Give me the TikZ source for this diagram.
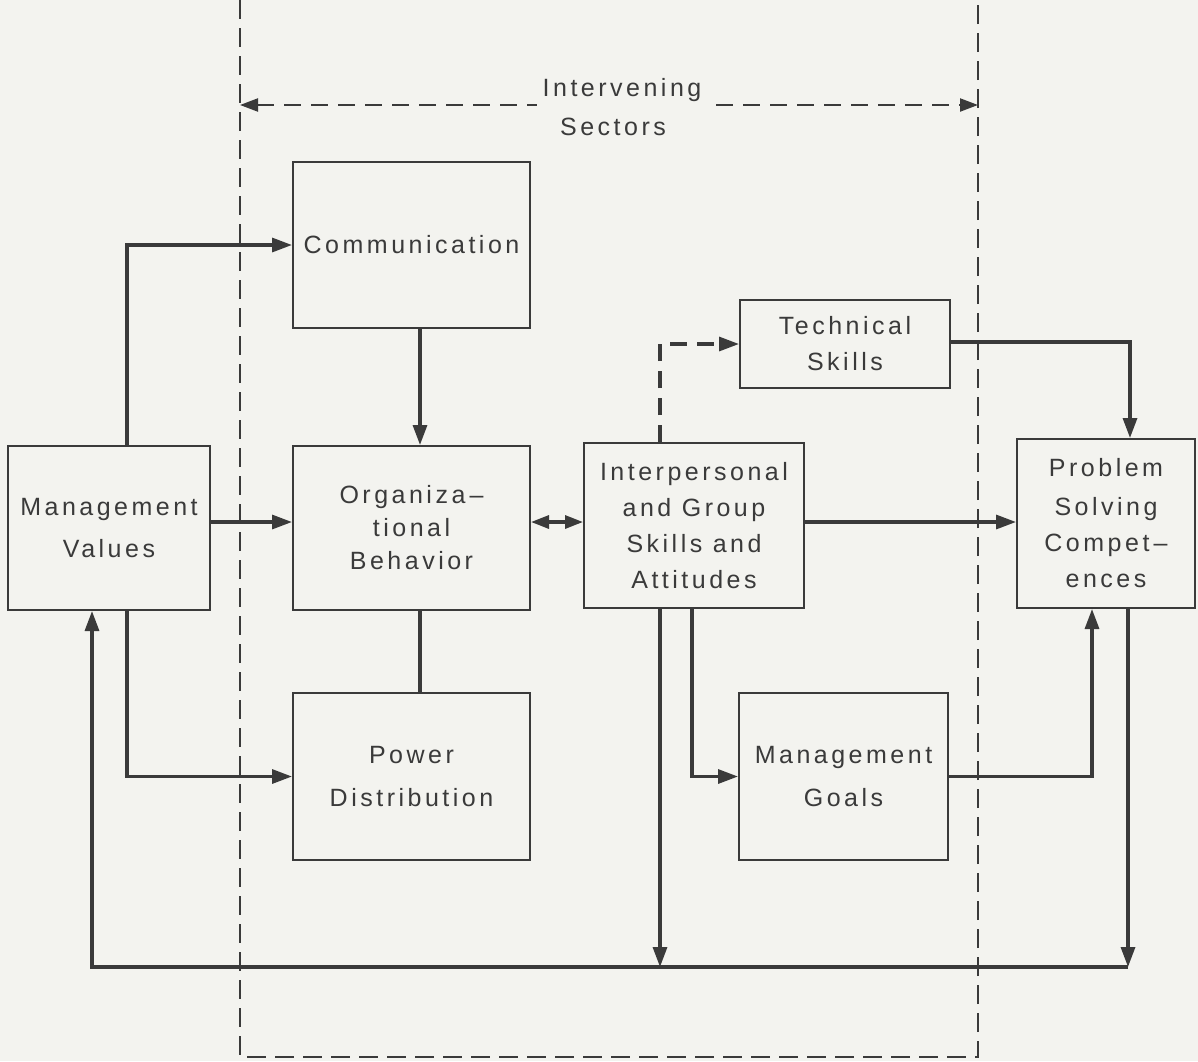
\documentclass[tikz,border=0pt]{standalone}
\usepackage{fontspec}
\usetikzlibrary{arrows.meta}
\newfontfamily\lf{Liberation Sans}[LetterSpace=14]
\definecolor{bg}{HTML}{F3F3EF}
\definecolor{ink}{HTML}{3A3A3A}
\tikzset{
  box/.style={draw=ink, line width=2pt, align=center, text=ink, inner sep=0pt,
    font={\lf\fontsize{25}{37}\selectfont}},
  lbl/.style={text=ink, align=center, font={\lf\fontsize{25}{37}\selectfont}},
  conn/.style={draw=ink, line width=3.2pt},
  arr/.style={conn, -{Triangle[length=20pt,width=14pt]}},
  sector/.style={draw=ink, line width=1.5pt, dash pattern=on 19pt off 9pt},
}
\begin{document}
\begin{tikzpicture}[x=1pt,y=-1pt]
\fill[bg] (0,0) rectangle (1198,1061);
\useasboundingbox (0,0) rectangle (1198,1061);

% intervening sectors frame
\coordinate (fTL) at (240,0);
\coordinate (fBL) at (240,1057);
\coordinate (fBR) at (978,1057);
\coordinate (fTR) at (978,0);
\draw[sector] (fTL) -- (fBL) -- (fBR) -- (fTR);

\coordinate (aL) at (240,105);
\coordinate (aR) at (978,105);
\draw[sector, line width=2.2pt, dash pattern=on 17pt off 10pt, {Triangle[length=18pt,width=13pt]}-{Triangle[length=18pt,width=13pt]}] (aL) -- (aR);
\node[lbl, fill=bg, inner xsep=6pt, inner ysep=10pt] (int) at (622,90) {Intervening};
\node[lbl, inner sep=0pt] (sec) at (613,127) {Sectors};

% boxes
\node[box, minimum width=202pt, minimum height=164pt] (MV) at (109,528) {Management\\[5pt]Values};
\node[box, minimum width=237pt, minimum height=166pt] (CM) at (411.5,245) {Communication};
\node[box, minimum width=237pt, minimum height=164pt] (OB) at (411.5,528) {Organiza\,–\\[-4pt]tional\\[-4pt]Behavior};
\node[box, minimum width=237pt, minimum height=167pt] (PD) at (411.5,776.5) {Power\\[6pt]Distribution};
\node[box, minimum width=220pt, minimum height=165pt] (IP) at (694,525.5) {Interpersonal\\[-1pt]and Group\\[-1pt]Skills and\\[-1pt]Attitudes};
\node[box, minimum width=210pt, minimum height=88pt] (TS) at (845,344) {Technical\\[-1pt]Skills};
\node[box, minimum width=209pt, minimum height=167pt] (MG) at (843.5,776.5) {Management\\[6pt]Goals};
\node[box, minimum width=178pt, minimum height=169pt] (PS) at (1106,523.5) {Problem\\[2pt]Solving\\[-1pt]Compet\,–\\[-1pt]ences};

\coordinate (botL) at (92,967);

% connectors
\draw[arr] ([xshift=18pt]MV.north) |- (CM.west);
\draw[arr] ([yshift=6pt]MV.east) -- ([yshift=6pt]MV.east -| OB.west);
\draw[arr] ([xshift=18pt]MV.south) |- (PD.west);
\draw[arr] ([xshift=8.5pt]CM.south) -- ([xshift=8.5pt]OB.north);
\draw[conn] ([xshift=8.5pt]OB.south) -- ([xshift=8.5pt]PD.north);
\draw[conn, {Triangle[length=18pt,width=13pt]}-{Triangle[length=18pt,width=13pt]}] ([yshift=6pt]OB.east) -- ([yshift=6pt]OB.east -| IP.west);
\draw[arr, dash pattern=on 17pt off 10pt] ([xshift=-34pt]IP.north) |- (TS.west);
\draw[arr] ([yshift=2pt]TS.east) -| ([xshift=24pt]PS.north);
\draw[arr] ([yshift=3.5pt]IP.east) -- ([yshift=3.5pt]IP.east -| PS.west);
\draw[arr] ([xshift=-34pt]IP.south) -- ([xshift=-34pt]IP.south |- botL);
\draw[arr] ([xshift=-2pt]IP.south) |- (MG.west);
\draw[arr] (MG.east) -| ([xshift=-14pt]PS.south);
\draw[arr] ([xshift=22pt]PS.south) -- ([xshift=22pt]PS.south |- botL);
\draw[arr] ([xshift=22pt]PS.south |- botL) -- (botL) -- ([xshift=-17pt]MV.south);
\end{tikzpicture}
\end{document}
